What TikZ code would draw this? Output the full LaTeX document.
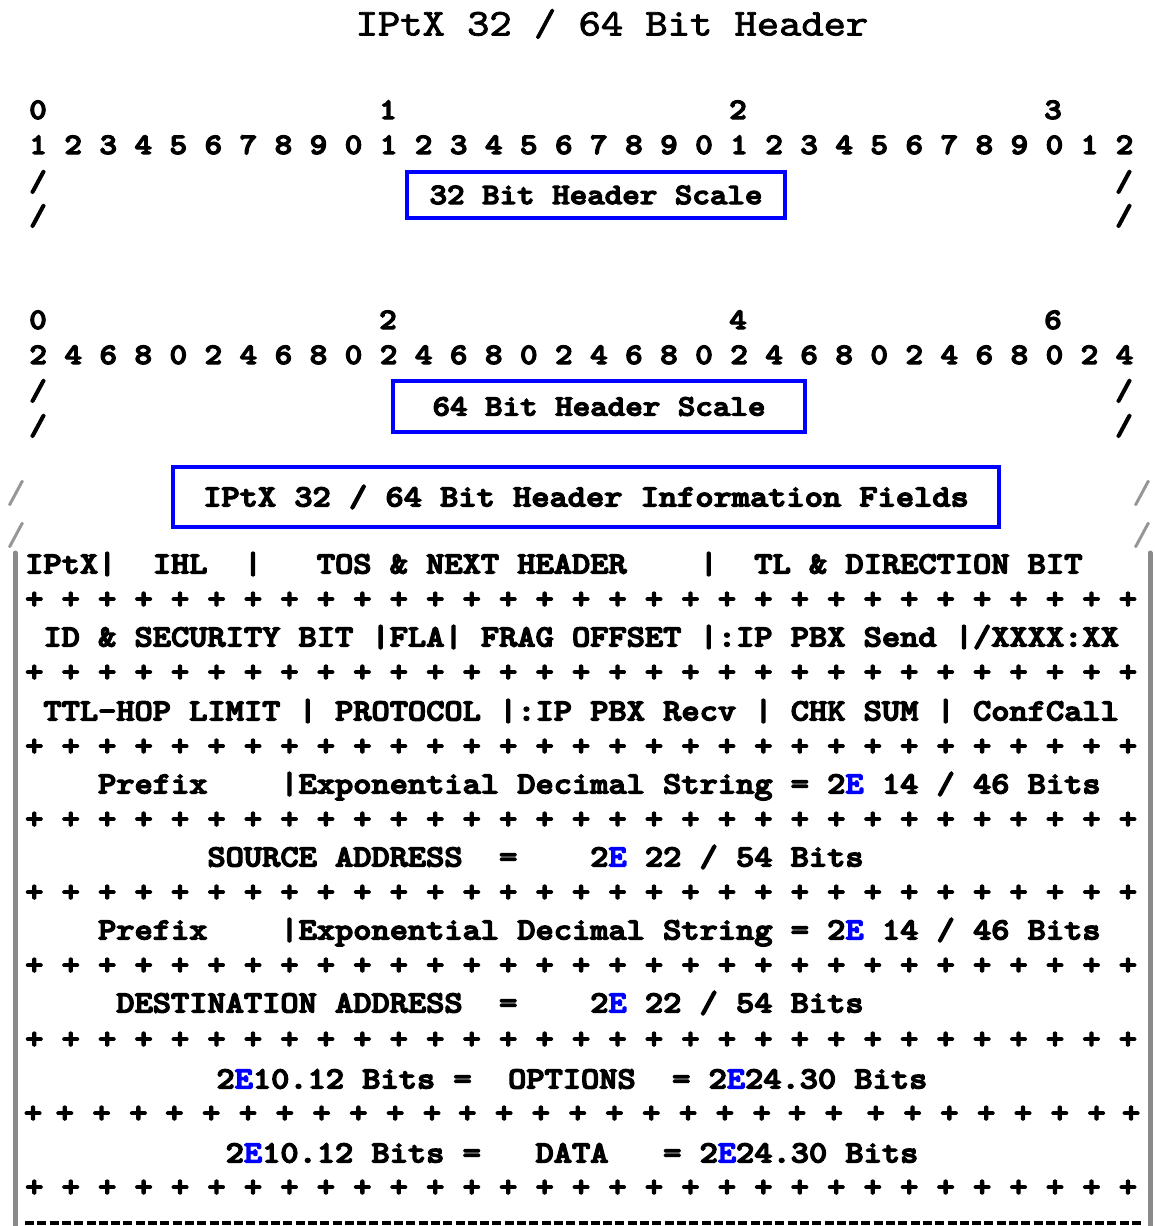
\documentclass[tikz,border=0pt]{standalone}
\usepackage{graphicx}
\definecolor{ebl}{RGB}{0,0,255}
\definecolor{bargray}{RGB}{138,138,138}
\definecolor{slgray}{RGB}{150,150,150}
\font\rowF="[lmmonolt10-bold]:embolden=4" at 31pt
\font\digF="[lmmonolt10-bold]:embolden=4" at 29.8pt
\font\titF="[lmmono10-regular]:embolden=2" at 37.9pt
\font\slF="[lmmono10-regular]:embolden=1" at 33pt
\newcommand\wideT[1]{\scalebox{1.12}[1]{#1}}
\newcommand\bluee{\textcolor{ebl}{E}}
\newcommand\rowfnt{\rowF}
\newcommand\digfnt{\digF}
\newcommand\titfnt{\titF}
\newcommand\slfnt{\slF}
\newcommand\plusrow{+~+~+~+~+~+~+~+~+~+~+~+~+~+~+~+~+~+~+~+~+~+~+~+~+~+~+~+~+~+~+}
\frenchspacing
\tikzset{
  rowtxt/.style={anchor=base west, inner sep=0pt, font=\rowfnt},
  digrow/.style={anchor=base west, inner sep=0pt, font=\digfnt},
  digone/.style={anchor=base, inner sep=0pt, font=\digfnt},
  plusone/.style={anchor=base, inner sep=0pt, font=\rowfnt},
  grayslash/.style={anchor=base, inner sep=0pt, font=\slfnt, text=slgray},
  bluebox/.style={draw=ebl, line width=4.5pt, inner sep=0pt},
  sidebar/.style={draw=bargray, line width=5pt, line cap=round},
  bottomdash/.style={draw=black, line width=4pt, dash pattern=on 9pt off 3.3pt}
}
\begin{document}
\begin{tikzpicture}[x=1pt,y=-1pt]
\useasboundingbox (0,0) rectangle (1154,1226);
\fill[white] (0,0) rectangle (1154,1226);

% title
\node[anchor=base, inner sep=0pt, font=\titfnt] (title) at (612,35.5) {\wideT{IPtX~32~/~64~Bit~Header}};

% 32 bit scale
\node[digone] (a0) at (38,119) {\wideT{0}};
\node[digone] (a1) at (388,119) {\wideT{1}};
\node[digone] (a2) at (738,119) {\wideT{2}};
\node[digone] (a3) at (1053,119) {\wideT{3}};
\node[digrow] (adig) at (29.2,154) {\wideT{1~2~3~4~5~6~7~8~9~0~1~2~3~4~5~6~7~8~9~0~1~2~3~4~5~6~7~8~9~0~1~2}};
\node[digone] (asl1) at (38,191) {\wideT{/}};
\node[digone] (asl2) at (38,225) {\wideT{/}};
\node[digone] (asr1) at (1124,191) {\wideT{/}};
\node[digone] (asr2) at (1124,225) {\wideT{/}};
\node[bluebox, minimum width=378pt, minimum height=46pt, font=\digfnt] (box32) at (596,195) {\wideT{32~Bit~Header~Scale}};

% 64 bit scale
\node[digone] (b0) at (38,329) {\wideT{0}};
\node[digone] (b2) at (388,329) {\wideT{2}};
\node[digone] (b4) at (738,329) {\wideT{4}};
\node[digone] (b6) at (1053,329) {\wideT{6}};
\node[digrow] (bdig) at (29.2,364) {\wideT{2~4~6~8~0~2~4~6~8~0~2~4~6~8~0~2~4~6~8~0~2~4~6~8~0~2~4~6~8~0~2~4}};
\node[digone] (bsl1) at (38,400) {\wideT{/}};
\node[digone] (bsl2) at (38,435) {\wideT{/}};
\node[digone] (bsr1) at (1124,400) {\wideT{/}};
\node[digone] (bsr2) at (1124,435) {\wideT{/}};
\node[bluebox, minimum width=412pt, minimum height=51pt, font=\digfnt] (box64) at (599,406.5) {\wideT{64~Bit~Header~Scale}};

% information fields box
\node[bluebox, minimum width=826pt, minimum height=60pt, font=\rowfnt] (boxinfo) at (586,497) {\wideT{IPtX~32~/~64~Bit~Header~Information~Fields}};
\node[grayslash] (gl1) at (16,503) {\wideT{/}};
\node[grayslash] (gl2) at (16,545) {\wideT{/}};
\node[grayslash] (gr1) at (1142,503) {\wideT{/}};
\node[grayslash] (gr2) at (1142,545) {\wideT{/}};

% side bars
\coordinate (lbt) at (15,553);
\coordinate (lbb) at (15,1240);
\coordinate (rbt) at (1150,553);
\coordinate (rbb) at (1150,1240);
\draw[sidebar] (lbt) -- (lbb);
\draw[sidebar] (rbt) -- (rbb);

% field rows
\node[rowtxt] (r1) at (25,573.5) {\wideT{IPtX|~~IHL~~|~~~TOS~\&~NEXT~HEADER~~~~|~~TL~\&~DIRECTION~BIT}};
\node[rowtxt] (p1) at (25,608.5) {\wideT{\plusrow}};
\node[rowtxt] (r2) at (25,646.5) {\wideT{~ID~\&~SECURITY~BIT~|FLA|~FRAG~OFFSET~|:IP~PBX~Send~|/XXXX:XX}};
\node[rowtxt] (p2) at (25,681.5) {\wideT{\plusrow}};
\node[rowtxt] (r3) at (25,720.5) {\wideT{~TTL-HOP~LIMIT~|~PROTOCOL~|:IP~PBX~Recv~|~CHK~SUM~|~ConfCall}};
\node[rowtxt] (p3) at (25,755.5) {\wideT{\plusrow}};
\node[rowtxt] (r4) at (25,793.5) {\wideT{~~~~Prefix~~~~|Exponential~Decimal~String~=~2\bluee~14~/~46~Bits}};
\node[rowtxt] (p4) at (25,828.5) {\wideT{\plusrow}};
\node[rowtxt] (r5) at (25,866.5) {\wideT{~~~~~~~~~~SOURCE~ADDRESS~~=~~~~2\bluee~22~/~54~Bits}};
\node[rowtxt] (p5) at (25,901.5) {\wideT{\plusrow}};
\node[rowtxt] (r6) at (25,939.5) {\wideT{~~~~Prefix~~~~|Exponential~Decimal~String~=~2\bluee~14~/~46~Bits}};
\node[rowtxt] (p6) at (25,974.5) {\wideT{\plusrow}};
\node[rowtxt] (r7) at (25,1012.5) {\wideT{~~~~~DESTINATION~ADDRESS~~=~~~~2\bluee~22~/~54~Bits}};
\node[rowtxt] (p7) at (25,1048.5) {\wideT{\plusrow}};
\node[rowtxt] (r8) at (34,1088.5) {\wideT{~~~~~~~~~~2\bluee10.12~Bits~=~~OPTIONS~~=~2\bluee24.30~Bits}};
\foreach \px [count=\i] in {33.1,64.8,101.6,138.4,174.4,211.2,248.0,284.8,321.6,358.4,395.2,432.0,467.3,504.1,540.9,577.7,614.5,651.3,688.1,724.9,761.7,797.0,833.8,875.8,912.6,949.4,986.2,1023.0,1059.8,1096.6,1131.1}
  \node[plusone] (p8-\i) at (\px,1122.5) {\wideT{+}};
\node[rowtxt] (r9) at (25,1162.5) {\wideT{~~~~~~~~~~~2\bluee10.12~Bits~=~~~DATA~~~=~2\bluee24.30~Bits}};
\node[rowtxt] (p9) at (25,1196.5) {\wideT{\plusrow}};

% bottom dashed rule
\coordinate (dl) at (25,1223);
\coordinate (dr) at (1141,1223);
\draw[bottomdash] (dl) -- (dr);
\end{tikzpicture}
\end{document}
